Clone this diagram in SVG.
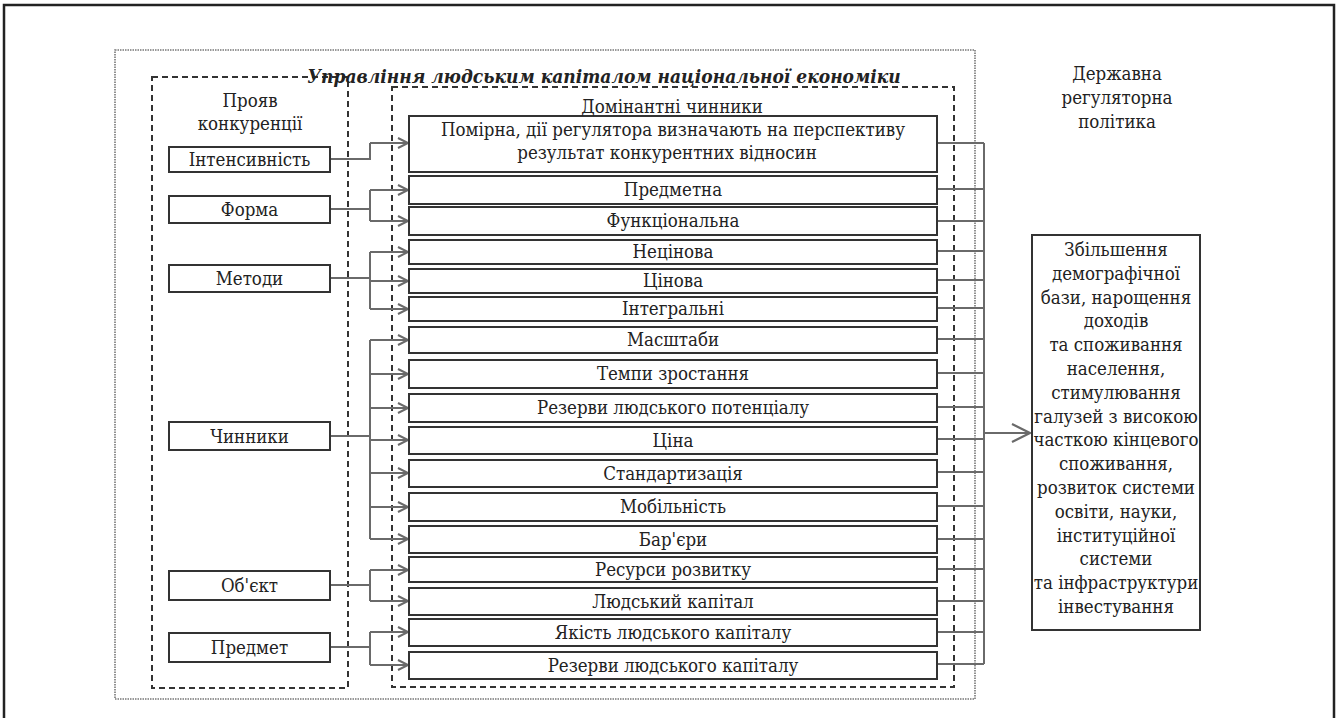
<svg xmlns="http://www.w3.org/2000/svg" width="1338" height="718" viewBox="0 0 1338 718">
<defs>
<style>
.t{font-family:'DejaVu Serif Condensed','DejaVu Serif',serif;font-size:18.5px;fill:#222;text-anchor:middle}
.ttl{font-weight:bold;font-style:italic;font-size:19px}
</style>
<marker id="ah" markerUnits="userSpaceOnUse" markerWidth="14" markerHeight="14" refX="10" refY="5" orient="auto" overflow="visible">
<path d="M0,0 L10,5 L0,10" fill="none" stroke="#6a6a6a" stroke-width="2"/>
</marker>
<marker id="ahb" markerUnits="userSpaceOnUse" markerWidth="22" markerHeight="22" refX="18" refY="9" orient="auto" overflow="visible">
<path d="M0,0 L18,9 L0,18" fill="none" stroke="#6a6a6a" stroke-width="2.2"/>
</marker>
</defs>
<rect width="1338" height="718" fill="#fff"/>
<path d="M4,718 V5 H1334 V718" fill="none" stroke="#222" stroke-width="2.5"/>

<g id="frames" fill="none">
<rect x="115" y="50" width="860" height="649" stroke="#777" stroke-width="1.6" stroke-dasharray="1.5 1"/>
<rect x="152" y="77" width="196" height="611" stroke="#333" stroke-width="2" stroke-dasharray="6 4"/>
<rect x="392" y="87" width="562" height="600" stroke="#333" stroke-width="2" stroke-dasharray="6 4"/>
</g>

<g id="connectors" fill="none" stroke="#6a6a6a" stroke-width="2">
<path d="M330,159 H370 V143"/><path marker-end="url(#ah)" d="M370,143 H408"/>
<path d="M330,209 H370 M370,190 V221"/><path marker-end="url(#ah)" d="M370,190 H408"/><path marker-end="url(#ah)" d="M370,221 H408"/>
<path d="M330,278 H370 M370,252 V309"/><path marker-end="url(#ah)" d="M370,252 H408"/><path marker-end="url(#ah)" d="M370,281 H408"/><path marker-end="url(#ah)" d="M370,309 H408"/>
<path d="M330,436 H370 M370,340 V539"/>
<path marker-end="url(#ah)" d="M370,340 H408"/><path marker-end="url(#ah)" d="M370,374 H408"/><path marker-end="url(#ah)" d="M370,408 H408"/><path marker-end="url(#ah)" d="M370,440 H408"/><path marker-end="url(#ah)" d="M370,473 H408"/><path marker-end="url(#ah)" d="M370,507 H408"/><path marker-end="url(#ah)" d="M370,539 H408"/>
<path d="M330,585 H370 M370,570 V601"/><path marker-end="url(#ah)" d="M370,570 H408"/><path marker-end="url(#ah)" d="M370,601 H408"/>
<path d="M330,647 H370 M370,632 V665"/><path marker-end="url(#ah)" d="M370,632 H408"/><path marker-end="url(#ah)" d="M370,665 H408"/>
<path d="M937,143 H984 M937,189 H984 M937,221 H984 M937,251 H984 M937,280 H984 M937,308 H984 M937,339 H984 M937,373 H984 M937,407 H984 M937,439 H984 M937,472 H984 M937,506 H984 M937,539 H984 M937,569 H984 M937,601 H984 M937,632 H984 M937,664 H984 M984,143 V664"/>
<path marker-end="url(#ahb)" stroke-width="2.2" d="M984,433 H1030"/>
</g>

<g id="boxes" fill="#fff" stroke="#333" stroke-width="2">
<rect id="n-intensyvnist" x="169" y="147" width="161" height="25"/>
<rect id="n-forma" x="169" y="196" width="161" height="27"/>
<rect id="n-metody" x="169" y="265" width="161" height="27"/>
<rect id="n-chynnyky" x="169" y="422" width="161" height="28"/>
<rect id="n-obiekt" x="169" y="571" width="161" height="29"/>
<rect id="n-predmet" x="169" y="633" width="161" height="29"/>
<rect id="m1" x="409" y="116" width="528" height="56"/>
<rect id="m2" x="409" y="176" width="528" height="28"/>
<rect id="m3" x="409" y="207" width="528" height="28"/>
<rect id="m4" x="409" y="240" width="528" height="24"/>
<rect id="m5" x="409" y="269" width="528" height="24"/>
<rect id="m6" x="409" y="297" width="528" height="24"/>
<rect id="m7" x="409" y="327" width="528" height="26"/>
<rect id="m8" x="409" y="360" width="528" height="28"/>
<rect id="m9" x="409" y="394" width="528" height="28"/>
<rect id="m10" x="409" y="427" width="528" height="27"/>
<rect id="m11" x="409" y="460" width="528" height="27"/>
<rect id="m12" x="409" y="493" width="528" height="28"/>
<rect id="m13" x="409" y="526" width="528" height="27"/>
<rect id="m14" x="409" y="557" width="528" height="25"/>
<rect id="m15" x="409" y="588" width="528" height="27"/>
<rect id="m16" x="409" y="619" width="528" height="27"/>
<rect id="m17" x="409" y="652" width="528" height="27"/>
<rect id="result" x="1032" y="235" width="168" height="395"/>
</g>

<g id="texts">
<text class="t ttl" x="604" y="83">Управління людським капіталом національної економіки</text>
<text class="t" x="250" y="107">Прояв</text>
<text class="t" x="250" y="130">конкуренції</text>
<text class="t" x="672" y="113">Домінантні чинники</text>
<text class="t" x="1117" y="80">Державна</text>
<text class="t" x="1117" y="104">регуляторна</text>
<text class="t" x="1117" y="128">політика</text>
<text class="t" x="249.5" y="166">Інтенсивність</text>
<text class="t" x="249.5" y="216">Форма</text>
<text class="t" x="249.5" y="285">Методи</text>
<text class="t" x="249.5" y="443">Чинники</text>
<text class="t" x="249.5" y="592">Об'єкт</text>
<text class="t" x="249.5" y="654">Предмет</text>
<text class="t" x="673" y="136">Помірна, дії регулятора визначають на перспективу</text>
<text class="t" x="667" y="159">результат конкурентних відносин</text>
<text class="t" x="673" y="196">Предметна</text>
<text class="t" x="673" y="227">Функціональна</text>
<text class="t" x="673" y="258">Нецінова</text>
<text class="t" x="673" y="287">Цінова</text>
<text class="t" x="673" y="315">Інтегральні</text>
<text class="t" x="673" y="346">Масштаби</text>
<text class="t" x="673" y="380">Темпи зростання</text>
<text class="t" x="673" y="414">Резерви людського потенціалу</text>
<text class="t" x="673" y="447">Ціна</text>
<text class="t" x="673" y="480">Стандартизація</text>
<text class="t" x="673" y="513">Мобільність</text>
<text class="t" x="673" y="546">Бар'єри</text>
<text class="t" x="673" y="576">Ресурси розвитку</text>
<text class="t" x="673" y="608">Людський капітал</text>
<text class="t" x="673" y="639">Якість людського капіталу</text>
<text class="t" x="673" y="672">Резерви людського капіталу</text>
<text class="t" x="1116" y="256">Збільшення</text>
<text class="t" x="1116" y="279.8">демографічної</text>
<text class="t" x="1116" y="303.6">бази, нарощення</text>
<text class="t" x="1116" y="327.4">доходів</text>
<text class="t" x="1116" y="351.2">та споживання</text>
<text class="t" x="1116" y="375">населення,</text>
<text class="t" x="1116" y="398.8">стимулювання</text>
<text class="t" x="1116" y="422.6">галузей з високою</text>
<text class="t" x="1116" y="446.4">часткою кінцевого</text>
<text class="t" x="1116" y="470.2">споживання,</text>
<text class="t" x="1116" y="494">розвиток системи</text>
<text class="t" x="1116" y="517.8">освіти, науки,</text>
<text class="t" x="1116" y="541.6">інституційної</text>
<text class="t" x="1116" y="565.4">системи</text>
<text class="t" x="1116" y="589.2">та інфраструктури</text>
<text class="t" x="1116" y="613">інвестування</text>
</g>
</svg>
